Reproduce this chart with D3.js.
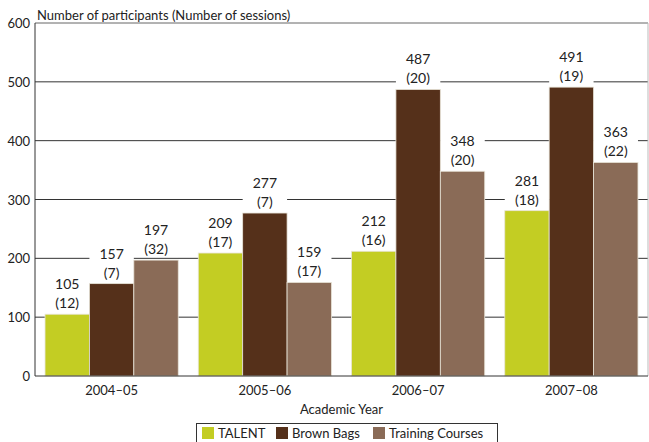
<!DOCTYPE html>
<html><head><meta charset="utf-8">
<script src="https://cdn.jsdelivr.net/npm/d3@7"></script>
<style>body{margin:0;background:#fff}svg{display:block}text{font-family:Lato,"Open Sans",sans-serif;fill:#222}</style>
</head><body><svg id="c" width="649" height="442"></svg>
<script>
const years = ["2004–05","2005–06","2006–07","2007–08"];
const seriesNames = ["TALENT","Brown Bags","Training Courses"];
const talent = [105,209,212,281];
const talentSessions = [12,17,16,18];
const brown = [157,277,487,491];
const brownSessions = [7,7,20,19];
const training = [197,159,348,363];
const trainingSessions = [32,17,20,22];
const yTicks = [0,100,200,300,400,500,600];
const colors = ["#c3cd23","#55301a","#8a6b57"];

const svg = d3.select("#c");
const L=35,R=648,T=23,B=376;
const x = d3.scaleBand().domain(years).range([L,R]).paddingInner(0.1307).paddingOuter(0.0654);
const xs = d3.scaleBand().domain(seriesNames).range([0,x.bandwidth()]);
const y = d3.scaleLinear().domain([0,600]).range([B,T]);

// gridlines
svg.append("g").selectAll("line").data(yTicks.filter(d=>d>0)).join("line")
  .attr("x1",L).attr("x2",R).attr("y1",d=>y(d)).attr("y2",d=>y(d))
  .attr("stroke",d=>d===600?"#666":"#333").attr("stroke-width",1);
svg.append("line").attr("x1",R).attr("x2",R).attr("y1",T).attr("y2",B).attr("stroke","#bbb");

const data=[];
const vals=[talent,brown,training], sess=[talentSessions,brownSessions,trainingSessions];
years.forEach((yr,i)=>seriesNames.forEach((s,j)=>data.push({yr,s,j,v:vals[j][i],n:sess[j][i]})));

// label backgrounds
svg.append("g").selectAll("rect").data(data).join("rect")
  .attr("x",d=>x(d.yr)+xs(d.s)).attr("width",xs.bandwidth())
  .attr("y",d=>y(d.v)-43).attr("height",40).attr("fill","#fff");

svg.append("g").selectAll("rect").data(data).join("rect")
  .attr("x",d=>x(d.yr)+xs(d.s)).attr("width",xs.bandwidth())
  .attr("y",d=>y(d.v)).attr("height",d=>B-y(d.v))
  .attr("fill",d=>colors[d.j]).attr("stroke","#e8e4d8").attr("stroke-width",0.8);

const lab = svg.append("g").selectAll("g").data(data).join("g")
  .attr("transform",d=>`translate(${x(d.yr)+xs(d.s)+xs.bandwidth()/2},${y(d.v)})`);
lab.append("text").attr("text-anchor","middle").attr("y",-25).attr("font-size",14).text(d=>d.v);
lab.append("text").attr("text-anchor","middle").attr("y",-6).attr("font-size",14).text(d=>`(${d.n})`);

// axes
svg.append("line").attr("x1",L).attr("x2",L).attr("y1",T).attr("y2",B).attr("stroke","#333");
svg.append("line").attr("x1",L).attr("x2",R).attr("y1",B).attr("y2",B).attr("stroke","#333");
svg.append("g").selectAll("text").data(yTicks).join("text")
  .attr("x",30).attr("y",d=>y(d)+5).attr("text-anchor","end").attr("font-size",13).text(d=>d);
svg.append("g").selectAll("text").data(years).join("text")
  .attr("x",d=>x(d)+x.bandwidth()/2).attr("y",395).attr("text-anchor","middle").attr("font-size",13).text(d=>d);
svg.append("text").attr("x",(L+R)/2).attr("y",414).attr("text-anchor","middle").attr("font-size",13).text("Academic Year");
svg.append("text").attr("x",37).attr("y",20).attr("font-size",13).text("Number of participants (Number of sessions)");

// legend
svg.append("rect").attr("x",196.5).attr("y",423.5).attr("width",301).attr("height",25).attr("fill","#fff").attr("stroke","#333");
const lx=[202,276,373];
const lg=svg.append("g").selectAll("g").data(seriesNames).join("g").attr("transform",(d,i)=>`translate(${lx[i]},427)`);
lg.append("rect").attr("width",12).attr("height",12).attr("fill",(d,i)=>colors[i]);
lg.append("text").attr("x",16).attr("y",11).attr("font-size",13).text(d=>d);
</script></body></html>
